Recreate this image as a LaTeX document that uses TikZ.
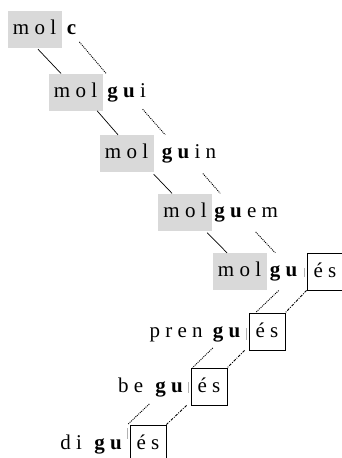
\documentclass[tikz,border=0pt]{standalone}
\usepackage{fontspec}
\setmainfont{Liberation Serif}
\usetikzlibrary{positioning}

\begin{document}
\begin{tikzpicture}[x=1pt, y=-1pt, font={\fontsize{21}{24}\selectfont}]
		\tikzstyle{stemBox} = [rectangle, fill=gray!30, minimum width=54pt, minimum height=37pt, inner sep=0pt, text height=14pt, text depth=4pt]
		\tikzstyle{endBox} = [rectangle, draw=black, line width=0.8pt, minimum width=36pt, minimum height=37pt, inner sep=0pt, text height=14pt, text depth=3pt]
		\tikzstyle{wordPart} = [inner sep=0pt]
		\tikzstyle{stemLink} = [line width=0.7pt]
		\tikzstyle{guLink} = [dash pattern=on 1pt off 1pt, line width=0.9pt]
		\tikzstyle{endLink} = [dash pattern=on 2.8pt off 1.3pt on 0.9pt off 1.3pt, line width=0.9pt]
		\tikzstyle{morphCut} = [gray!60, line width=0.4pt]

		\useasboundingbox (0,0) rectangle (342,458);

		% stems: mol + c / gu
		\node (molC) [stemBox] at (34.5,29) {m o l};
		\node (sufC) [wordPart, base right=5pt of molC] {\textbf{c}};
		\node (molGui) [stemBox] at (75.5,92.2) {m o l};
		\node (sufGui) [wordPart, base right=4.5pt of molGui] {\textbf{g u} i};
		\node (molGuin) [stemBox] at (126.5,153.5) {m o l};
		\node (sufGuin) [wordPart, base right=8pt of molGuin] {\textbf{g u} i n};
		\node (molGuem) [stemBox] at (185,212) {m o l};
		\node (sufGuem) [wordPart, base right=2pt of molGuem] {\textbf{g u} e m};
		\node (molGues) [stemBox] at (239.5,271.5) {m o l};
		\node (guMolgues) [wordPart, base right=3pt of molGues] {\textbf{g u}};
		\node (esMolgues) [endBox] at (325,271.5) {é s};

		% other verbs with -gués
		\node (esPren) [endBox] at (267,331.5) {é s};
		\node (guPren) [wordPart, base left=8pt of esPren] {\textbf{g u}};
		\node (pren) [wordPart, base left=10pt of guPren] {p r e n};
		\node (esBe) [endBox] at (209,386.5) {é s};
		\node (guBe) [wordPart, base left=7.5pt of esBe] {\textbf{g u}};
		\node (be) [wordPart, base left=12pt of guBe] {b e};
		\node (esDi) [endBox] at (148,443.5) {é s};
		\node (guDi) [wordPart, base left=7.5pt of esDi] {\textbf{g u}};
		\node (di) [wordPart, base left=12pt of guDi] {d i};

		\draw [morphCut] ([xshift=-2.5pt, yshift=3.5pt]esMolgues.west) -- ++(0,9);
		\draw [morphCut] ([xshift=-2.5pt, yshift=3.5pt]esPren.west) -- ++(0,12);
		\draw [morphCut] ([xshift=-2.5pt, yshift=4.5pt]esBe.west) -- ++(0,11);
		\draw [morphCut] ([xshift=-2.5pt, yshift=15.5pt]esDi.west) -- ++(0,11);

		\draw [stemLink] ([xshift=3.5pt, yshift=-1.5pt]molC.south) -- ([xshift=-14.5pt]molGui.north);
		\draw [stemLink] ([xshift=-5.5pt]molGui.south east) -- ([xshift=-8.5pt]molGuin.north);
		\draw [stemLink] ([yshift=-2pt]molGuin.south east) -- ([xshift=-13pt]molGuem.north);
		\draw [stemLink] ([xshift=-5pt, yshift=-2pt]molGuem.south east) -- ([xshift=-12.5pt]molGues.north);

		\draw [guLink] ([xshift=3pt, yshift=-8pt]sufC.base east) -- ([xshift=3.5pt]molGui.north east);
		\draw [guLink] ([xshift=-3.5pt, yshift=-12pt]sufGui.base east) -- ([xshift=11.5pt]molGuin.north east);
		\draw [guLink] ([xshift=-13.5pt, yshift=-15pt]sufGuin.base east) -- ([xshift=8pt]molGuem.north east);
		\draw [guLink] ([xshift=-22.5pt, yshift=-15pt]sufGuem.base east) -- ([xshift=8.5pt]molGues.north east);

		\draw [guLink] ([xshift=9pt, yshift=-14pt]guMolgues.base west) -- ([xshift=7pt]esPren.north west);
		\draw [guLink] ([yshift=-11pt]guPren.base west) -- ([xshift=2pt]esBe.north west);
		\draw [guLink] ([xshift=-6pt, yshift=-12pt]guBe.base west) -- ([xshift=-2pt]esDi.north west);

		\draw [endLink] (esMolgues.south west) -- (esPren.north east);
		\draw [endLink] ([xshift=-4pt]esPren.south west) -- (esBe.north east);
		\draw [endLink] ([xshift=-4pt]esBe.south west) -- (esDi.north east);
	\end{tikzpicture}
\end{document}
